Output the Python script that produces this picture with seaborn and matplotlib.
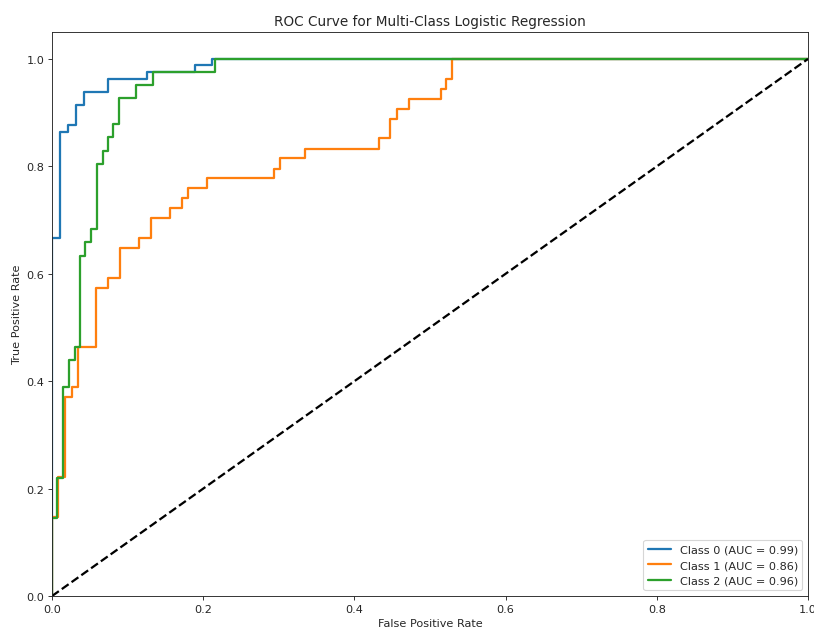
import matplotlib
matplotlib.use("Agg")
import matplotlib.pyplot as plt
import seaborn as sns
import pandas as pd

# ROC corner points (fpr at which tpr jumps to value)
fpr0 = [0, 0, 0.011, 0.021, 0.032, 0.042, 0.074, 0.126, 0.189, 0.211, 1.0]
tpr0 = [0, 0.667, 0.864, 0.877, 0.914, 0.938, 0.963, 0.975, 0.988, 1.0, 1.0]

fpr1 = [0, 0, 0.008, 0.017, 0.026, 0.034, 0.058, 0.074, 0.090, 0.115, 0.131, 0.156, 0.172,
        0.180, 0.205, 0.293, 0.302, 0.334, 0.432, 0.447, 0.456, 0.472, 0.514, 0.521, 0.529, 1.0]
tpr1 = [0, 0.148, 0.222, 0.370, 0.389, 0.463, 0.574, 0.593, 0.648, 0.667, 0.704, 0.722, 0.741,
        0.759, 0.778, 0.796, 0.815, 0.833, 0.852, 0.889, 0.907, 0.926, 0.944, 0.963, 1.0, 1.0]

fpr2 = [0, 0, 0.007, 0.015, 0.022, 0.030, 0.037, 0.044, 0.052, 0.059, 0.067, 0.074, 0.081,
        0.089, 0.111, 0.133, 0.215, 1.0]
tpr2 = [0, 0.146, 0.220, 0.390, 0.439, 0.463, 0.634, 0.659, 0.683, 0.805, 0.829, 0.854, 0.878,
        0.927, 0.951, 0.976, 1.0, 1.0]

class_names = ["Class 0", "Class 1", "Class 2"]
auc_values = [0.99, 0.86, 0.96]
colors = ["#1f77b4", "#ff7f0e", "#2ca02c"]

diag_x = [0, 1]
diag_y = [0, 1]

sns.set_style("ticks")
plt.rcParams["font.family"] = ["DejaVu Sans"]

fig, ax = plt.subplots(figsize=(10, 7.8), dpi=81.4)
fig.subplots_adjust(left=0.0639, right=0.9926, bottom=0.0598, top=0.948)

curves = [(fpr0, tpr0), (fpr1, tpr1), (fpr2, tpr2)]
for (fx, ty), name, auc, col in zip(curves, class_names, auc_values, colors):
    df = pd.DataFrame({"fpr": fx, "tpr": ty})
    sns.lineplot(data=df, x="fpr", y="tpr", ax=ax, estimator=None, sort=False,
                 drawstyle="steps-post", color=col, linewidth=2,
                 label=f"{name} (AUC = {auc:.2f})")

sns.lineplot(x=diag_x, y=diag_y, ax=ax, estimator=None, sort=False,
             color="black", linestyle="--", linewidth=2)

ax.set_xlim(0.0, 1.0)
ax.set_ylim(0.0, 1.05)
ax.set_xlabel("False Positive Rate")
ax.set_ylabel("True Positive Rate")
ax.set_title("ROC Curve for Multi-Class Logistic Regression")
ax.legend(loc="lower right")
for s in ax.spines.values():
    s.set_visible(True)

fig.savefig("out.png", dpi=81.4)
